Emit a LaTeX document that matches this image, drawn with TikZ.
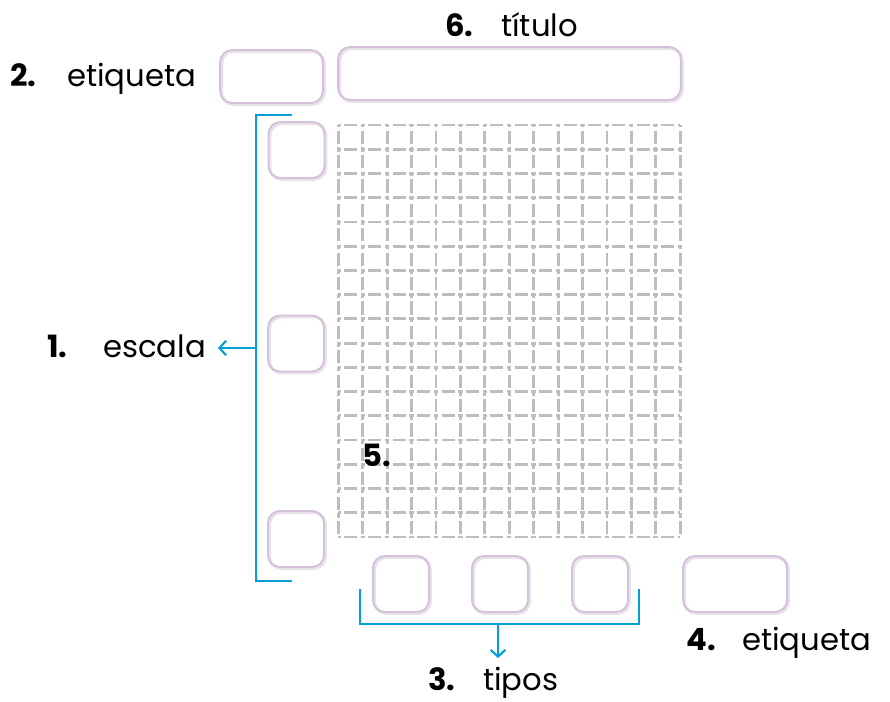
\documentclass[tikz,border=0pt]{standalone}
\usepackage{fontspec}
\setmainfont{Poppins}
\usetikzlibrary{arrows.meta}
\definecolor{boxline}{HTML}{D3C1D7}
\definecolor{boxshade}{HTML}{E9E0EB}
\definecolor{gridcol}{HTML}{BDBDBD}
\definecolor{bluel}{HTML}{00A0D8}
\tikzset{
  pbox/.style={draw=boxline, line width=1.4pt, rounded corners=9pt, inner sep=0pt,
    minimum width=42pt, minimum height=42pt,
    preaction={draw=boxshade, line width=2.2pt, transform canvas={xshift=1.1pt,yshift=-1.1pt}}},
  lbl/.style={anchor=base west, inner sep=0pt, font=\fontsize{23}{26}\selectfont},
  num/.style={lbl, font=\fontsize{23}{26}\selectfont\bfseries},
  gridline/.style={draw=gridcol, line width=2.1pt, dash pattern=on 3.3pt off 2.6pt on 9.8pt off 2.6pt, dash phase=1.65pt},
  brack/.style={draw=bluel, line width=2.2pt},
  barrow/.style={draw=bluel, line width=1.6pt, -{Straight Barb[length=5pt,width=11pt]}}
}
\begin{document}
\begin{tikzpicture}[x=0.75pt,y=-0.75pt]
\useasboundingbox (0,0) rectangle (890,702);
% grid
\foreach \i in {0,...,14} {
  \draw[gridline] ({338.3+\i*24.43},125) -- ({338.3+\i*24.43},537);
}
\foreach \j in {0,...,17} {
  \draw[gridline] (338.3,{125+\j*24.235}) -- (680,{125+\j*24.235});
}
% boxes
\node[pbox, minimum width=77pt, minimum height=39.75pt] (bEtq) at (271.5,76.5) {};
\node[pbox, minimum width=257pt, minimum height=39.75pt] (bTitle) at (509.5,73.5) {};
\node[pbox] (bS1) at (296.5,150) {};
\node[pbox] (bS2) at (296,343.5) {};
\node[pbox] (bS3) at (296,539) {};
\node[pbox] (bT1) at (401,584) {};
\node[pbox] (bT2) at (500,584) {};
\node[pbox] (bT3) at (600,584) {};
\node[pbox, minimum width=78pt] (bE2) at (735,584) {};
% labels
\node[num] (n2) at (10,87) {2.};
\node[lbl] (etq1) at (67,87) {etiqueta};
\node[num] (n6) at (445,37) {6.};
\node[lbl] (tit) at (501,37) {título};
\node[num] (n1) at (47,358) {1.};
\node[lbl] (esc) at (103,358) {escala};
\node[num] (n5) at (362,467) {5.};
\node[num] (n4) at (686,650) {4.};
\node[lbl] (etq2) at (742,650) {etiqueta};
\node[num] (n3) at (428,690) {3.};
\node[lbl] (tip) at (483,690) {tipos};
% brackets
\coordinate (lbTop) at (292,115);
\coordinate (lbBot) at (292,581);
\coordinate (lbMid) at (256,348);
\coordinate (lbTip) at (218,348);
\draw[brack] (lbTop) -- (256,115) -- (256,581) -- (lbBot);
\draw[barrow] (lbMid) -- (lbTip);
\coordinate (bbL) at (360,589);
\coordinate (bbR) at (639,589);
\coordinate (bbMid) at (498,624);
\coordinate (bbTip) at (498,658);
\draw[brack] (bbL) -- (360,624) -- (639,624) -- (bbR);
\draw[barrow] (bbMid) -- (bbTip);
\end{tikzpicture}
\end{document}
